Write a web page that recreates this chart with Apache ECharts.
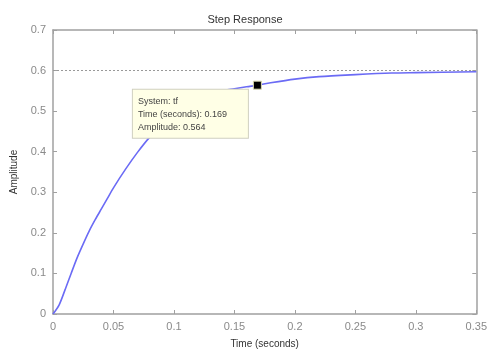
<!DOCTYPE html>
<html>
<head>
<meta charset="utf-8">
<script src="https://cdn.jsdelivr.net/npm/echarts@6/dist/echarts.min.js"></script>
<style>
  html, body { margin: 0; padding: 0; background: #fff; }
  #chart { width: 490px; height: 354px; }
</style>
</head>
<body>
<div id="chart"></div>
<script>
// step response
var timeValues = [0, 0.005, 0.01, 0.015, 0.02, 0.025, 0.03, 0.035, 0.04, 0.045, 0.05, 0.06, 0.07, 0.08,
  0.09, 0.1, 0.11, 0.12, 0.13, 0.14, 0.15, 0.16, 0.169, 0.18, 0.2, 0.22, 0.25, 0.28, 0.3, 0.35];
var amplitudeValues = [0, 0.022, 0.06, 0.1, 0.139, 0.173, 0.205, 0.233, 0.259, 0.285, 0.311, 0.357, 0.399, 0.436,
  0.466, 0.49, 0.51, 0.527, 0.54, 0.55, 0.555, 0.56, 0.564, 0.57, 0.579, 0.585, 0.59, 0.594, 0.595, 0.597];
var xTicks = ['0', '0.05', '0.1', '0.15', '0.2', '0.25', '0.3', '0.35'];
var yTicks = ['0', '0.1', '0.2', '0.3', '0.4', '0.5', '0.6', '0.7'];
var finalValue = 0.6;
var cursorPoint = [0.169, 0.564];
var cursorLines = ['System: tf', 'Time (seconds): 0.169', 'Amplitude: 0.564'];

var chart = echarts.init(document.getElementById('chart'));

var points = timeValues.map(function (t, i) { return [t, amplitudeValues[i]]; });

var axisColor = '#a0a0a0';
var font = 'Arial, "Liberation Sans", sans-serif';

function boxAxis(pos, isX, showLabels, labels) {
  return {
    type: 'value',
    position: pos,
    min: 0,
    max: isX ? 0.35 : 0.7,
    interval: isX ? 0.05 : 0.1,
    axisLine: { show: true, onZero: false, lineStyle: { color: axisColor, width: 1.5 } },
    axisTick: { show: true, inside: true, length: 4, lineStyle: { color: axisColor } },
    splitLine: { show: false },
    axisLabel: {
      show: showLabels,
      color: '#8a8a8a',
      fontFamily: font,
      fontSize: 11,
      margin: 7,
      formatter: function (v) {
        var step = isX ? 0.05 : 0.1;
        return labels[Math.round(v / step)];
      }
    }
  };
}

var xMain = boxAxis('bottom', true, true, xTicks);
xMain.name = 'Time (seconds)';
xMain.nameLocation = 'middle';
xMain.nameGap = 25;
xMain.nameTextStyle = { color: '#333', fontFamily: font, fontSize: 10 };

var yMain = boxAxis('left', false, true, yTicks);
yMain.name = 'Amplitude';
yMain.nameLocation = 'middle';
yMain.nameGap = 34;
yMain.nameTextStyle = { color: '#333', fontFamily: font, fontSize: 10 };

var option = {
  animation: false,
  backgroundColor: '#fff',
  title: {
    text: 'Step Response',
    left: 'center',
    top: 9,
    textStyle: { color: '#333', fontFamily: font, fontSize: 11, fontWeight: 'normal' }
  },
  grid: { left: 53, right: 13, top: 30, bottom: 36 },
  xAxis: [xMain, boxAxis('top', true, false, xTicks)],
  yAxis: [yMain, boxAxis('right', false, false, yTicks)],
  series: [{
    type: 'line',
    data: points,
    smooth: 0.3,
    showSymbol: false,
    lineStyle: { color: '#6b6bf5', width: 1.6 },
    markLine: {
      silent: true,
      symbol: ['none', 'none'],
      label: { show: false },
      lineStyle: { color: '#999', type: [2, 2], width: 1 },
      data: [{ yAxis: finalValue }]
    },
    markPoint: {
      silent: true,
      symbol: 'rect',
      symbolSize: 8,
      itemStyle: { color: '#000', borderColor: '#d8d8b0', borderWidth: 1 },
      label: {
        show: true,
        position: [-120, 9],
        align: 'left',
        verticalAlign: 'top',
        formatter: cursorLines.join('\n'),
        color: '#444',
        fontFamily: font,
        fontSize: 9,
        lineHeight: 13,
        backgroundColor: '#ffffe6',
        borderColor: '#d0d0c0',
        borderWidth: 1,
        padding: [5, 6, 4, 5],
        width: 104
      },
      data: [{ coord: cursorPoint }]
    }
  }]
};

chart.setOption(option);
</script>
</body>
</html>
